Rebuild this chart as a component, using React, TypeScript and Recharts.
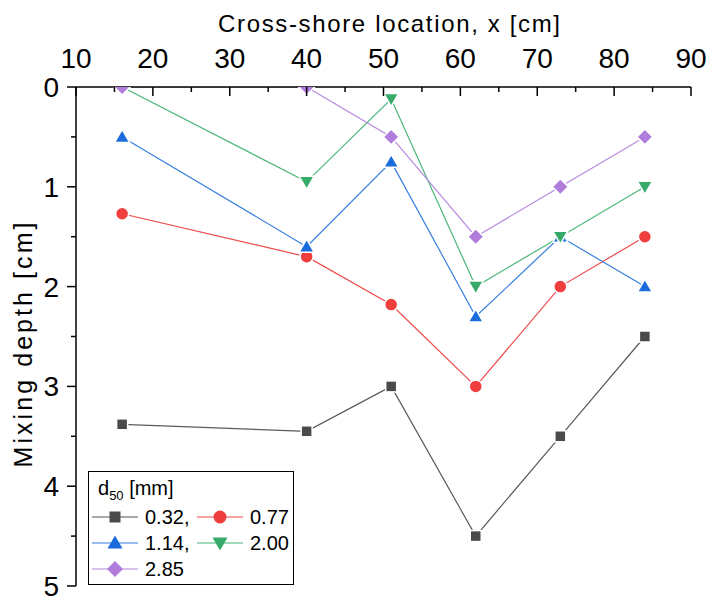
import React from "react";
import { LineChart, Line, XAxis, YAxis, Legend } from "recharts";

// cross-shore locations [cm]
const locations = [16, 40, 51, 62, 73, 84];

// mixing depth [cm] for each d50
const depth032 = [3.38, 3.45, 3.0, 4.5, 3.5, 2.5];
const depth077 = [1.27, 1.7, 2.18, 3.0, 2.0, 1.5];
const depth114 = [0.5, 1.6, 0.75, 2.3, 1.5, 2.0];
const depth200 = [0, 0.95, 0.12, 2.0, 1.5, 1.0];
const depth285 = [0, 0, 0.5, 1.5, 1.0, 0.5];

const xTicks = [10, 15, 20, 25, 30, 35, 40, 45, 50, 55, 60, 65, 70, 75, 80, 85, 90];
const yTicks = [0, 0.5, 1, 1.5, 2, 2.5, 3, 3.5, 4, 4.5, 5];

const FONT = "'Liberation Sans', Arial, sans-serif";

type Shape = "square" | "circle" | "up" | "down" | "diamond";

const series: { key: string; label: string; values: number[]; color: string; line: string; shape: Shape }[] = [
  { key: "d032", label: "0.32,", values: depth032, color: "#4a4a4a", line: "#5a5a5a", shape: "square" },
  { key: "d077", label: "0.77", values: depth077, color: "#ee3e3e", line: "#f04a4a", shape: "circle" },
  { key: "d114", label: "1.14,", values: depth114, color: "#1a6cdc", line: "#3a80e0", shape: "up" },
  { key: "d200", label: "2.00", values: depth200, color: "#36aa68", line: "#4cb87a", shape: "down" },
  { key: "d285", label: "2.85", values: depth285, color: "#b07ddc", line: "#b88ae0", shape: "diamond" },
];

const data = locations.map((x, i) => {
  const row: Record<string, number> = { x };
  series.forEach((s) => (row[s.key] = s.values[i]));
  return row;
});

function Marker({ cx, cy, shape, color, outline = true }: { cx: number; cy: number; shape: Shape; color: string; outline?: boolean }) {
  const stroke = outline ? "#fff" : "none";
  const sw = outline ? 1.5 : 0;
  if (shape === "square") {
    return <rect x={cx - 5.5} y={cy - 5.5} width={11} height={11} fill={color} stroke={stroke} strokeWidth={sw} />;
  }
  if (shape === "circle") {
    return <circle cx={cx} cy={cy} r={6.5} fill={color} stroke={stroke} strokeWidth={sw} />;
  }
  if (shape === "up") {
    return (
      <polygon
        points={`${cx},${cy - 7.5} ${cx + 7.5},${cy + 5.5} ${cx - 7.5},${cy + 5.5}`}
        fill={color}
        stroke={stroke}
        strokeWidth={sw}
      />
    );
  }
  if (shape === "down") {
    return (
      <polygon
        points={`${cx},${cy + 7.5} ${cx + 7.5},${cy - 5.5} ${cx - 7.5},${cy - 5.5}`}
        fill={color}
        stroke={stroke}
        strokeWidth={sw}
      />
    );
  }
  return (
    <polygon
      points={`${cx},${cy - 8} ${cx + 8},${cy} ${cx},${cy + 8} ${cx - 8},${cy}`}
      fill={color}
      stroke={stroke}
      strokeWidth={sw}
    />
  );
}

const XTick = (props: any) => {
  const { x, y, payload } = props;
  const major = payload.value % 10 === 0;
  return (
    <g>
      <line x1={x} x2={x} y1={y} y2={y + (major ? 9 : 5)} stroke="#000" strokeWidth={1.5} />
      {major && (
        <text x={x} y={y - 19} textAnchor="middle" fontFamily={FONT} fontSize={28} fill="#000">
          {payload.value}
        </text>
      )}
    </g>
  );
};

const YTick = (props: any) => {
  const { x, y, payload } = props;
  const major = Number.isInteger(payload.value);
  return (
    <g>
      <line x1={x - (major ? 9 : 5)} x2={x} y1={y} y2={y} stroke="#000" strokeWidth={1.5} />
      {major && (
        <text x={x - 17} y={y + 10} textAnchor="end" fontFamily={FONT} fontSize={28} fill="#000">
          {payload.value}
        </text>
      )}
    </g>
  );
};

const LegendBox = () => {
  const cols = [4, 109];
  const rows = [46, 72, 98];
  return (
    <svg width={207} height={115} style={{ display: "block" }}>
      <rect x={0.5} y={0.5} width={205} height={113} fill="#fff" stroke="#000" strokeWidth={1} />
      <text x={10} y={24} fontFamily={FONT} fontSize={20} fill="#000">
        d<tspan fontSize={13} dy={5}>50</tspan>
        <tspan dy={-5}> [mm]</tspan>
      </text>
      {series.map((s, i) => {
        const cx = cols[i % 2];
        const cy = rows[Math.floor(i / 2)];
        return (
          <g key={s.key}>
            <line x1={cx} x2={cx + 46} y1={cy} y2={cy} stroke={s.line} strokeOpacity={0.7} strokeWidth={1.5} />
            <Marker cx={cx + 23} cy={cy} shape={s.shape} color={s.color} outline={false} />
            <text x={cx + 53} y={cy + 7} fontFamily={FONT} fontSize={20} fill="#000">
              {s.label}
            </text>
          </g>
        );
      })}
    </svg>
  );
};

export default function App() {
  return (
    <div style={{ position: "absolute", left: 0, top: 0, width: 712, height: 601, background: "#fff" }}>
      <LineChart width={712} height={601} data={data} margin={{ top: 0, right: 21, bottom: 15, left: 0 }}>
        <XAxis
          dataKey="x"
          type="number"
          orientation="top"
          domain={[10, 90]}
          ticks={xTicks}
          interval={0}
          height={87}
          tickSize={0}
          tickMargin={0}
          tickLine={false}
          tick={<XTick />}
          axisLine={{ stroke: "#000", strokeWidth: 1.5 }}
          label={{
            content: () => (
              <text
                x={389}
                y={32}
                textAnchor="middle"
                fontFamily={FONT}
                fontSize={24}
                textLength={342}
                lengthAdjust="spacing"
                fill="#000"
              >
                Cross-shore location, x [cm]
              </text>
            ),
          }}
        />
        <YAxis
          type="number"
          reversed
          domain={[0, 5]}
          ticks={yTicks}
          interval={0}
          allowDataOverflow
          width={76}
          tickSize={0}
          tickMargin={0}
          tickLine={false}
          tick={<YTick />}
          axisLine={{ stroke: "#000", strokeWidth: 1.5 }}
          label={{
            content: () => (
              <text
                x={0}
                y={0}
                transform="translate(32 345) rotate(-90)"
                textAnchor="middle"
                fontFamily={FONT}
                fontSize={25}
                textLength={245}
                lengthAdjust="spacing"
                fill="#000"
              >
                Mixing depth [cm]
              </text>
            ),
          }}
        />
        <Legend
          layout="horizontal"
          align="center"
          verticalAlign="middle"
          content={<LegendBox />}
          wrapperStyle={{ left: 88, top: 471, width: 207, height: 115 }}
        />
        {series.map((s) => (
          <Line
            key={s.key}
            dataKey={s.key}
            stroke={s.line}
            strokeWidth={1.2}
            isAnimationActive={false}
            dot={(p: any) => <Marker key={`${s.key}-${p.index}`} cx={p.cx} cy={p.cy} shape={s.shape} color={s.color} />}
            activeDot={false}
          />
        ))}
      </LineChart>
    </div>
  );
}
